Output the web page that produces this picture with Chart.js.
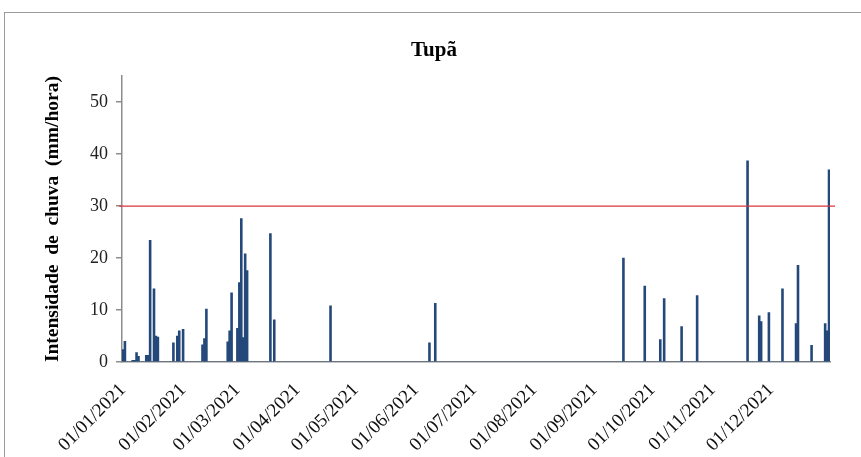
<!DOCTYPE html>
<html>
<head>
<meta charset="utf-8">
<script src="https://cdn.jsdelivr.net/npm/chart.js@4"></script>
<style>
html, body { margin: 0; padding: 0; background: #fff; overflow: hidden; }
#moldura { position: absolute; left: 4px; top: 12px; width: 900px; height: 500px;
           border-top: 1px solid #9a9a9a; border-left: 1px solid #9a9a9a; }
#caixa { position: absolute; left: 0; top: 0; width: 861px; height: 457px; }
</style>
</head>
<body>
<div id="moldura"></div>
<div id="caixa"><canvas id="graficoChuva"></canvas></div>
<script>
// dias com chuva (dd/mm/aaaa) e intensidade maxima em mm/hora
const diasChuva = [
    '01/01/2021', '02/01/2021', '06/01/2021', '07/01/2021', '08/01/2021', '09/01/2021',
    '13/01/2021', '14/01/2021', '15/01/2021', '17/01/2021', '18/01/2021', '19/01/2021',
    '27/01/2021', '29/01/2021', '30/01/2021', '01/02/2021',
    '11/02/2021', '12/02/2021', '13/02/2021', '24/02/2021', '25/02/2021', '26/02/2021',
    '01/03/2021', '02/03/2021', '03/03/2021', '04/03/2021', '05/03/2021', '06/03/2021',
    '18/03/2021', '20/03/2021', '18/04/2021', '08/06/2021', '11/06/2021',
    '16/09/2021', '27/09/2021', '05/10/2021', '07/10/2021', '16/10/2021', '24/10/2021',
    '19/11/2021', '25/11/2021', '26/11/2021', '30/11/2021', '07/12/2021',
    '14/12/2021', '15/12/2021', '22/12/2021', '29/12/2021', '30/12/2021', '31/12/2021'
];
const intensidades = [
    2.4, 4.0, 0.3, 0.3, 1.8, 1.1,
    1.3, 1.3, 23.4, 14.1, 5.0, 4.8,
    3.7, 5.0, 6.0, 6.3,
    3.3, 4.5, 10.2, 3.9, 6.0, 13.3,
    6.5, 15.3, 27.6, 4.7, 20.8, 17.6,
    24.7, 8.1, 10.8, 3.7, 11.3,
    20.0, 14.6, 4.3, 12.2, 6.8, 12.8,
    38.7, 8.9, 7.8, 9.5, 14.1,
    7.4, 18.6, 3.2, 7.4, 6.0, 37.0
];
const ticksY = [0, 10, 20, 30, 40, 50];
const maxY = 55;
const limite = 30;

// todos os dias de 2021 como categorias
let diasAno = [];
let d = new Date(2021, 0, 1);
while (d.getFullYear() === 2021) {
    let dd = String(d.getDate()).padStart(2, '0');
    let mm = String(d.getMonth() + 1).padStart(2, '0');
    diasAno.push(dd + '/' + mm + '/2021');
    d.setDate(d.getDate() + 1);
}
let valores = diasAno.map(function(dia) {
    let i = diasChuva.indexOf(dia);
    return i >= 0 ? intensidades[i] : 0;
});

const linhaLimite = {
    id: 'linhaLimite',
    afterDatasetsDraw(chart) {
        const ctx = chart.ctx;
        const y = chart.scales.y.getPixelForValue(limite);
        ctx.save();
        ctx.strokeStyle = '#d9363a';
        ctx.lineWidth = 1.3;
        ctx.beginPath();
        ctx.moveTo(chart.chartArea.left - 3, y);
        ctx.lineTo(chart.chartArea.right + 5, y);
        ctx.stroke();
        ctx.restore();
    }
};

const serif = "'Liberation Serif', 'Times New Roman', serif";
const cinza = '#8c8c8c';

new Chart(document.getElementById('graficoChuva').getContext('2d'), {
    type: 'bar',
    data: {
        labels: diasAno,
        datasets: [{
            label: 'Intensidade de chuva',
            data: valores,
            backgroundColor: '#234879',
            barPercentage: 1,
            categoryPercentage: 1
        }]
    },
    options: {
        responsive: true,
        maintainAspectRatio: false,
        animation: false,
        layout: { padding: { left: 38, right: 31, top: 0, bottom: 0 } },
        plugins: {
            legend: { display: false },
            tooltip: { enabled: false },
            title: {
                display: true,
                text: 'Tupã',
                color: '#000',
                font: { family: serif, size: 21, weight: 'bold' },
                padding: { top: 38, bottom: 13 }
            }
        },
        scales: {
            x: {
                type: 'category',
                offset: true,
                grid: { display: false },
                border: { display: true, color: cinza, width: 1.5 },
                ticks: {
                    autoSkip: false,
                    maxRotation: 45,
                    minRotation: 45,
                    padding: 9,
                    color: '#111',
                    font: { family: serif, size: 19 },
                    callback: function(value, index) {
                        let lbl = this.getLabelForValue(value);
                        return lbl.startsWith('01/') ? lbl : '';
                    }
                },
                afterFit: function(scale) { scale.height = 95; }
            },
            y: {
                min: 0,
                max: maxY,
                afterBuildTicks: function(scale) {
                    scale.ticks = ticksY.map(v => ({ value: v }));
                },
                grid: { display: true, drawOnChartArea: false, drawTicks: true, tickLength: 6, color: cinza, lineWidth: 1.5 },
                border: { display: true, color: cinza, width: 1.5 },
                ticks: {
                    padding: 8,
                    color: '#222',
                    font: { family: serif, size: 18 }
                },
                title: {
                    display: true,
                    text: 'Intensidade  de  chuva  (mm/hora)',
                    color: '#000',
                    font: { family: serif, size: 19.5, weight: 'bold' },
                    padding: { top: 3, bottom: 0 }
                },
                afterFit: function(scale) { scale.width = 84; }
            }
        }
    },
    plugins: [linhaLimite]
});
</script>
</body>
</html>
